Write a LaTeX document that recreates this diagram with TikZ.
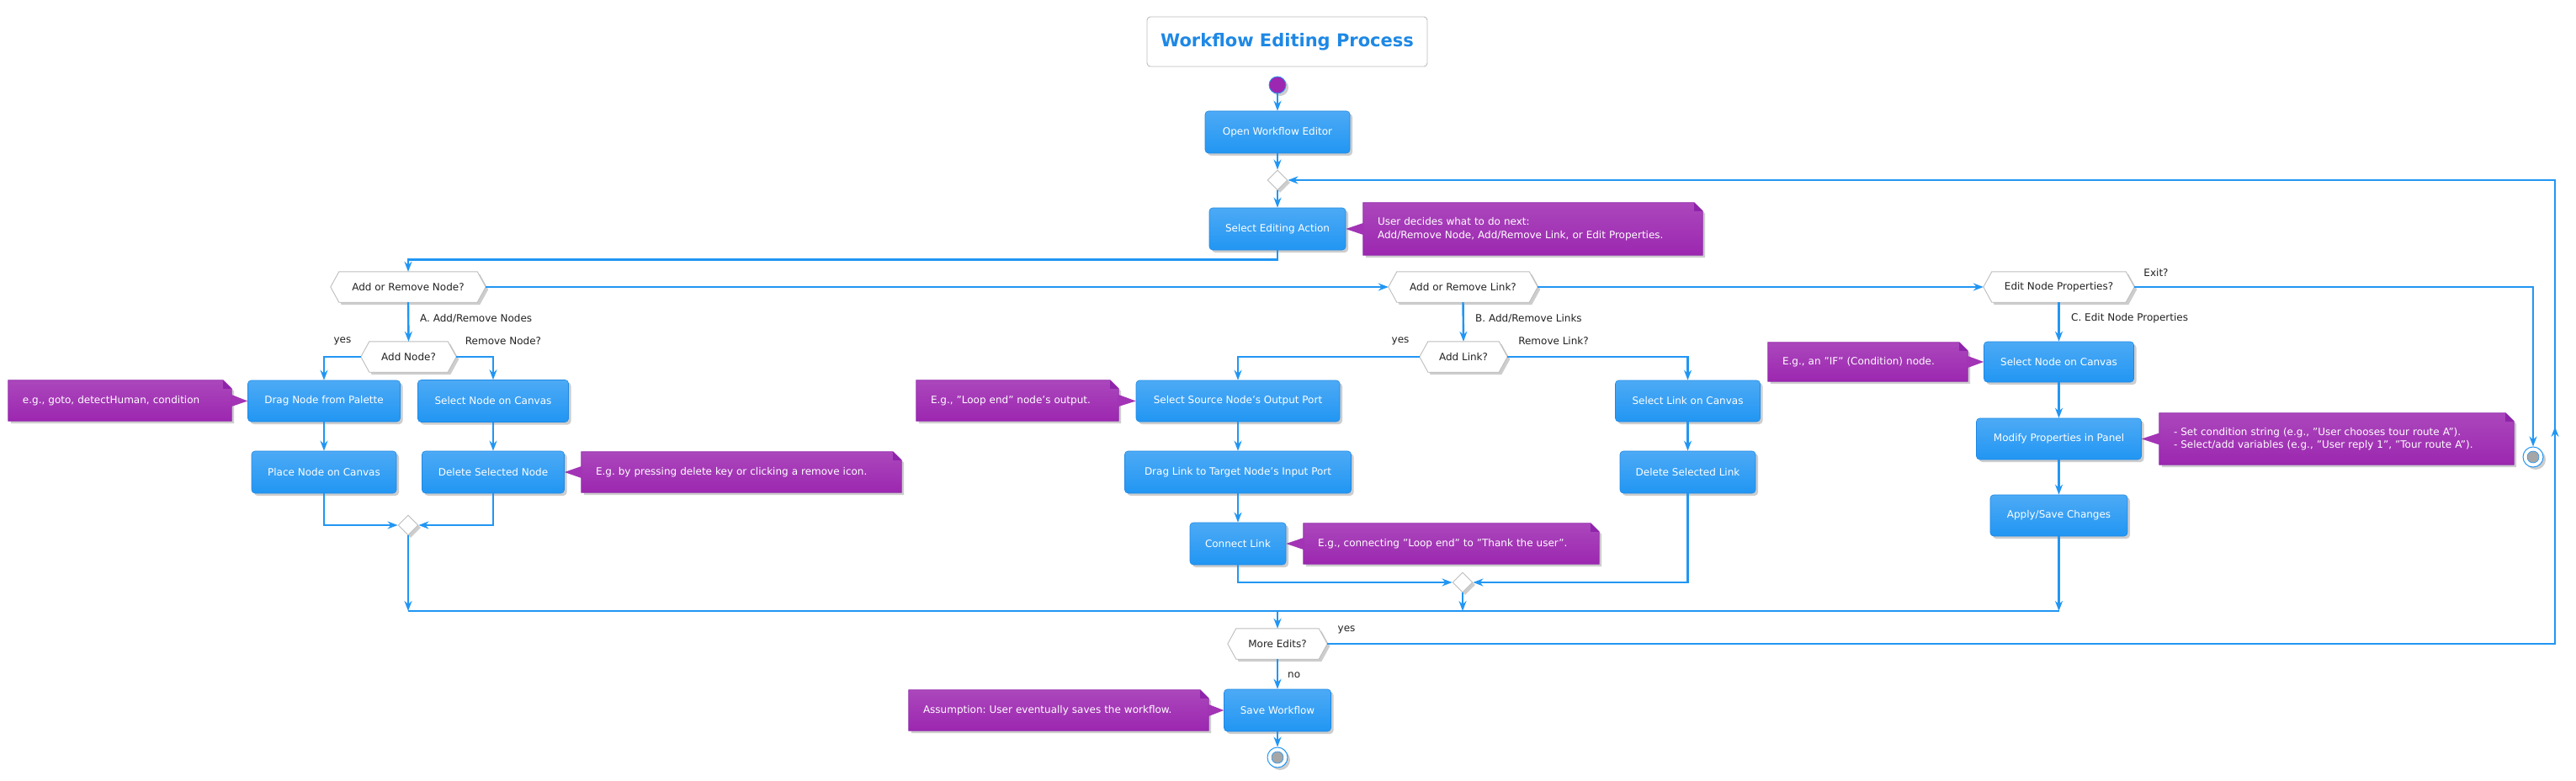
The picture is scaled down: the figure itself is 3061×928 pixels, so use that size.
\documentclass[tikz,border=0pt]{standalone}
\usepackage{fontspec}
\setmainfont{DejaVu Sans}
\usetikzlibrary{arrows.meta,shapes.geometric,shadows,calc}
\pgfdeclarelayer{bg}
\pgfsetlayers{bg,main}
\frenchspacing
\definecolor{flowc}{HTML}{2196F3}
\definecolor{actTop}{HTML}{4DAAF5}
\definecolor{actBot}{HTML}{2196F3}
\definecolor{actBorder}{HTML}{1E88E5}
\definecolor{noteTop}{HTML}{AB47BC}
\definecolor{noteBot}{HTML}{9C27B0}
\definecolor{noteBorder}{HTML}{8E24AA}
\definecolor{hexBorder}{HTML}{BDBDBD}
\definecolor{txt}{HTML}{222222}
\definecolor{titleBlue}{HTML}{1E88E5}
\newcommand{\myfont}{\fontsize{12}{15.5}\selectfont}
\newcommand{\mytitlefont}{\fontsize{21}{25}\selectfont\bfseries}
\newcommand{\notebg}[1]{%
  \path[noteshape] (#1.south west) -- (#1.north west) -- ([xshift=-10pt]#1.north east)
    -- ([yshift=-10pt]#1.north east) -- (#1.south east) -- cycle;
  \path[fill=noteBorder] ([xshift=-10pt]#1.north east) -- ([yshift=-10pt]#1.north east)
    -- ([xshift=-10pt,yshift=-10pt]#1.north east) -- cycle;}
\newcommand{\ptr}[2]{%
  \path[fill=noteTop!40!noteBot] ([yshift=7pt]#1) -- (#2) -- ([yshift=-7pt]#1) -- cycle;}
\newcommand{\hexbg}[1]{%
  \path[hexshape] (#1.west) -- ([xshift=10pt]#1.north west) -- ([xshift=-10pt]#1.north east)
    -- (#1.east) -- ([xshift=-10pt]#1.south east) -- ([xshift=10pt]#1.south west) -- cycle;}
\begin{document}
\begin{tikzpicture}[x=1pt,y=-1pt,
  shad/.style={drop shadow={shadow xshift=3pt,shadow yshift=-3pt,opacity=0.28,fill=black!70}},
  act/.style={rectangle,rounded corners=4pt,top color=actTop,bottom color=actBot,draw=actBorder,
    line width=0.6pt,text=white,font=\myfont,inner sep=0pt,shad},
  hexn/.style={rectangle,minimum height=36pt,inner sep=0pt,font=\myfont,text=txt},
  hexshape/.style={fill=white,draw=hexBorder,line width=0.9pt,shad},
  notenode/.style={rectangle,inner xsep=17pt,inner ysep=0pt,align=left,font=\myfont,text=white},
  noteshape/.style={top color=noteTop,bottom color=noteBot,draw=noteBorder,line width=0.8pt,shad},
  merge/.style={diamond,minimum width=24pt,minimum height=24pt,inner sep=0pt,fill=white,
    draw=hexBorder,line width=0.9pt,shad},
  arr/.style={draw=flowc,line width=2.4pt,-{Stealth[length=12pt,width=9pt,inset=4pt]}},
  plain/.style={draw=flowc,line width=2.4pt},
  lbl/.style={font=\myfont,text=txt,inner sep=0pt}]
\useasboundingbox (0,0) rectangle (3061,928);

% title
\node[draw=hexBorder,line width=0.9pt,rounded corners=4pt,fill=white,minimum width=333pt,minimum height=59pt,
  font=\mytitlefont,text=titleBlue,inner sep=0pt] (title) at (1529.5,49.5) {Workflow Editing Process};

% start / main column
\node[circle,minimum size=20pt,inner sep=0pt,fill=noteBot,draw=flowc,line width=0.8pt,shad] (start) at (1518,101) {};
\node[act,minimum width=172pt,minimum height=50pt] (open) at (1518,157) {Open Workflow Editor};
\node[merge] (d1) at (1518,214) {};
\node[act,minimum width=162pt,minimum height=50pt] (sel) at (1518,272) {Select Editing Action};
\node[notenode,text width=369pt,minimum height=62pt] (noteSel) at (1821.5,272)
  {\mbox{User decides what to do next:}\\\mbox{Add/Remove Node, Add/Remove Link, or Edit Properties.}};

% hexagon decisions
\node[hexn,minimum width=184pt] (hexA) at (485,341) {Add or Remove Node?};
\node[hexn,minimum width=177pt] (hexB) at (1738.5,341) {Add or Remove Link?};
\node[hexn,minimum width=179pt] (hexC) at (2446.5,341) {Edit Node Properties?};
\node[hexn,minimum width=113pt] (addNode) at (485.5,424) {Add Node?};
\node[hexn,minimum width=104pt] (addLink) at (1739,424) {Add Link?};
\node[hexn,minimum width=118pt] (more) at (1518,765) {More Edits?};

% branch A
\node[act,minimum width=181pt,minimum height=49pt] (drag) at (385,476.5) {Drag Node from Palette};
\node[notenode,text width=231pt,minimum height=48pt] (noteDrag) at (142.5,476) {\mbox{e.g., goto, detectHuman, condition}};
\node[act,minimum width=179pt,minimum height=50pt] (selN) at (586,476.5) {Select Node on Canvas};
\node[act,minimum width=172pt,minimum height=50pt] (place) at (385,561) {Place Node on Canvas};
\node[act,minimum width=169pt,minimum height=50pt] (del) at (586,561) {Delete Selected Node};
\node[notenode,text width=346pt,minimum height=48pt] (noteDel) at (881,561) {\mbox{E.g. by pressing delete key or clicking a remove icon.}};
\node[merge] (m1) at (485,624) {};

% branch B
\node[act,minimum width=242pt,minimum height=49pt] (selSrc) at (1471,476.5) {Select Source Node's Output Port};
\node[notenode,text width=206pt,minimum height=48pt] (noteSrc) at (1209,476) {\mbox{E.g., "Loop end" node's output.}};
\node[act,minimum width=269pt,minimum height=50pt] (dragLink) at (1471,561) {Drag Link to Target Node's Input Port};
\node[act,minimum width=114pt,minimum height=50pt] (connect) at (1471,646) {Connect Link};
\node[notenode,text width=317pt,minimum height=48pt] (noteConn) at (1724.5,646) {\mbox{E.g., connecting "Loop end" to "Thank the user".}};
\node[act,minimum width=172pt,minimum height=49pt] (selLink) at (2005.5,476.5) {Select Link on Canvas};
\node[act,minimum width=161pt,minimum height=50pt] (delLink) at (2005.5,561) {Delete Selected Link};
\node[merge] (m2) at (1738,692) {};

% branch C
\node[act,minimum width=178pt,minimum height=48pt] (selP) at (2446.5,430) {Select Node on Canvas};
\node[notenode,text width=203pt,minimum height=46pt] (noteP) at (2219.5,430) {\mbox{E.g., an "IF" (Condition) node.}};
\node[act,minimum width=196pt,minimum height=49pt] (modify) at (2446.5,521.5) {Modify Properties in Panel};
\node[notenode,text width=387pt,minimum height=61pt] (noteMod) at (2776.5,521.5)
  {\mbox{- Set condition string (e.g., "User chooses tour route A").}\\\mbox{- Select/add variables (e.g., "User reply 1", "Tour route A").}};
\node[act,minimum width=163pt,minimum height=49pt] (apply) at (2446.5,612.5) {Apply/Save Changes};
\node[circle,minimum size=24pt,inner sep=0pt,fill=white,draw=flowc,line width=1pt,shad] (endC) at (3010,543) {};
\fill[gray!70] (endC.center) circle (7pt);
\draw[flowc,line width=0.6pt] (endC.center) circle (7pt);

% end part
\node[act,minimum width=127pt,minimum height=50pt] (save) at (1518,844) {Save Workflow};
\node[notenode,text width=322pt,minimum height=48pt] (noteSave) at (1258,844) {\mbox{Assumption: User eventually saves the workflow.}};
\node[circle,minimum size=24pt,inner sep=0pt,fill=white,draw=flowc,line width=1pt,shad] (endF) at (1518,900) {};
\fill[gray!70] (endF.center) circle (7pt);
\draw[flowc,line width=0.6pt] (endF.center) circle (7pt);

% labels
\node[lbl,anchor=west] (lA) at (499,378) {A. Add/Remove Nodes};
\node[lbl] (lyes1) at (407,405) {yes};
\node[lbl] (lrem1) at (598,405) {Remove Node?};
\node[lbl,anchor=west] (lB) at (1753,378) {B. Add/Remove Links};
\node[lbl] (lyes2) at (1664,405) {yes};
\node[lbl] (lrem2) at (1846,405) {Remove Link?};
\node[lbl,anchor=west] (lC) at (2461,378) {C. Edit Node Properties};
\node[lbl] (lexit) at (2562,324) {Exit?};
\node[lbl] (lyes3) at (1600,748) {yes};
\node[lbl,anchor=west] (lno) at (1530,802) {no};

% coordinates
\coordinate (barL) at (485,726);
\coordinate (barR) at (2446.5,726);
\coordinate (barM) at (1518,726);
\coordinate (rb) at (3036,765);
\coordinate (rt) at (3036,214);
\coordinate (rmid) at (3036,507);

% background shapes
\begin{pgfonlayer}{bg}
\fill[white] (0,0) rectangle (3061,928);
\hexbg{hexA}\hexbg{hexB}\hexbg{hexC}\hexbg{addNode}\hexbg{addLink}\hexbg{more}
\notebg{noteSel}\notebg{noteDrag}\notebg{noteDel}\notebg{noteSrc}
\notebg{noteConn}\notebg{noteP}\notebg{noteMod}\notebg{noteSave}
\ptr{noteSel.west}{sel.east}
\ptr{noteDrag.east}{drag.west}
\ptr{noteDel.west}{del.east}
\ptr{noteSrc.east}{selSrc.west}
\ptr{noteConn.west}{connect.east}
\ptr{noteP.east}{selP.west}
\ptr{noteMod.west}{modify.east}
\ptr{noteSave.east}{save.west}
\end{pgfonlayer}

% connectors
\draw[arr] (start.south) -- (open.north);
\draw[arr] (open.south) -- (d1.north);
\draw[arr] (d1.south) -- (sel.north);
\draw[arr] (sel.south) -- ++(0,11) -| (hexA.north);
\draw[arr] (hexA.east) -- (hexB.west);
\draw[arr] (hexB.east) -- (hexC.west);
\draw[arr] (hexC.east) -| (endC.north);

\draw[arr] (hexA.south) -- (addNode.north);
\draw[arr] (addNode.west) -| (drag.north);
\draw[arr] (addNode.east) -| (selN.north);
\draw[arr] (drag.south) -- (place.north);
\draw[arr] (selN.south) -- (del.north);
\draw[arr] (place.south) |- (m1.west);
\draw[arr] (del.south) |- (m1.east);
\draw[arr] (m1.south) -- (barL);

\draw[arr] (hexB.south) -- (addLink.north);
\draw[arr] (addLink.west) -| (selSrc.north);
\draw[arr] (addLink.east) -| (selLink.north);
\draw[arr] (selSrc.south) -- (dragLink.north);
\draw[arr] (dragLink.south) -- (connect.north);
\draw[arr] (selLink.south) -- (delLink.north);
\draw[arr] (connect.south) |- (m2.west);
\draw[arr] (delLink.south) |- (m2.east);
\draw[arr] (m2.south) -- (m2.south |- barL);

\draw[arr] (hexC.south) -- (selP.north);
\draw[arr] (selP.south) -- (modify.north);
\draw[arr] (modify.south) -- (apply.north);
\draw[arr] (apply.south) -- (barR);

\draw[plain] (barL) -- (barR);
\draw[arr] (barM) -- (more.north);
\draw[arr] (more.east) -- (rb) -- (rt) -- (d1.east);
\draw[arr] (rb) -- (rmid);
\draw[arr] (more.south) -- (save.north);
\draw[arr] (save.south) -- (endF.north);
\end{tikzpicture}
\end{document}
